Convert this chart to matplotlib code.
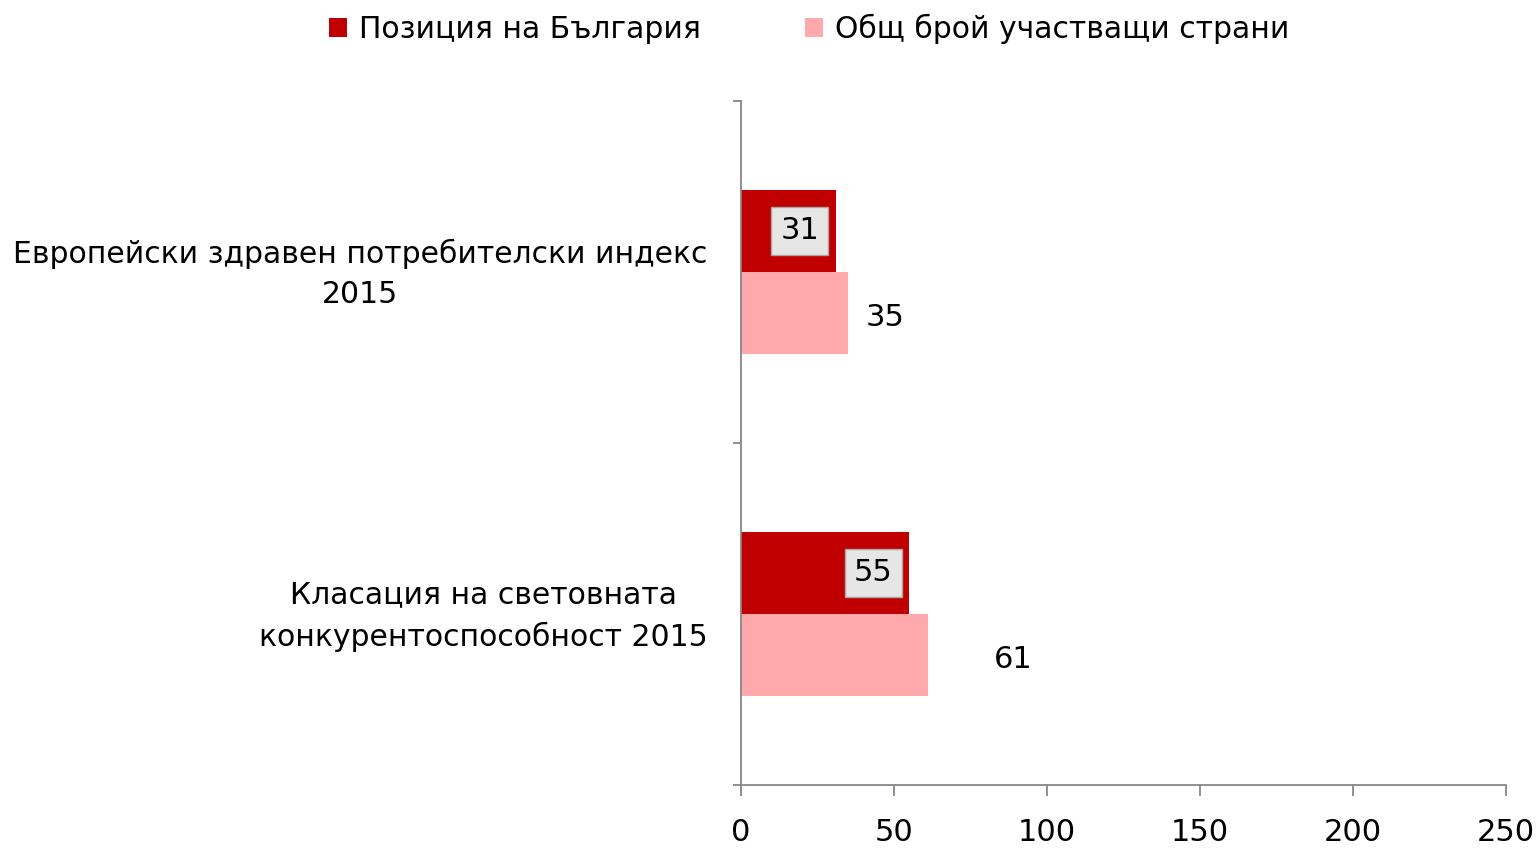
import matplotlib
matplotlib.use('Agg')
import matplotlib.pyplot as plt
import numpy as np

categories = ['Европейски здравен потребителски индекс\n2015',
              'Класация на световната\nконкурентоспособност 2015']
series_names = ['Позиция на България', 'Общ брой участващи страни']
position_bg = [31, 55]
total_countries = [35, 61]

DARK_RED = '#C00000'
PINK = '#FFA9AC'
AXIS = '#868686'

plt.rcParams['font.family'] = ['DejaVu Sans']

fig = plt.figure(figsize=(15.37, 8.48), dpi=100)
ax = fig.add_axes([0.4821, 0.0743, 0.4977, 0.8066])

y = np.arange(len(categories))
h = 0.24
b1 = ax.barh(y - h / 2, position_bg, height=h, color=DARK_RED, label=series_names[0])
b2 = ax.barh(y + h / 2, total_countries, height=h, color=PINK, label=series_names[1])

ax.set_xlim(0, 250)
ax.set_ylim(1.5, -0.5)
ax.set_xticks([0, 50, 100, 150, 200, 250])
ax.set_yticks([-0.5, 0.5, 1.5])
ax.set_yticklabels([])
ax.set_yticks(y - 0.02, minor=True)
ax.set_yticklabels(categories, minor=True, multialignment='center', fontsize=21.5,
                   linespacing=1.5)
ax.tick_params(axis='y', which='minor', length=0, pad=24)
ax.tick_params(axis='y', which='major', length=6, color=AXIS, width=1.3)
ax.tick_params(axis='x', length=8, color=AXIS, width=1.3, labelsize=22, pad=16)

for sp in ['top', 'right']:
    ax.spines[sp].set_visible(False)
for sp in ['left', 'bottom']:
    ax.spines[sp].set_color(AXIS)
    ax.spines[sp].set_linewidth(1.3)

# labels inside end of the dark bars
for rect, val in zip(b1, position_bg):
    ax.annotate(f'{val}', xy=(rect.get_width(), rect.get_y() + rect.get_height() / 2),
                xytext=(-12, 0), textcoords='offset points', ha='right', va='center',
                fontsize=22,
                bbox=dict(boxstyle='square,pad=0.3', facecolor='#E6E6E6',
                          edgecolor='#A6A6A6', linewidth=1))

# labels outside the pink bars
offsets = [37, 86]
for rect, val, off in zip(b2, total_countries, offsets):
    ax.annotate(f'{val}', xy=(rect.get_width(), rect.get_y() + rect.get_height() / 2),
                xytext=(off * 0.72, -3), textcoords='offset points', ha='center', va='center',
                fontsize=22)

fig.legend(handles=[b1, b2], labels=series_names, loc='center', ncol=2,
           bbox_to_anchor=(0.5265, 0.966), frameon=False, fontsize=21.5,
           handlelength=0.6, handleheight=0.6, handletextpad=0.4, columnspacing=3.5)

plt.savefig('out.png', dpi=100)
